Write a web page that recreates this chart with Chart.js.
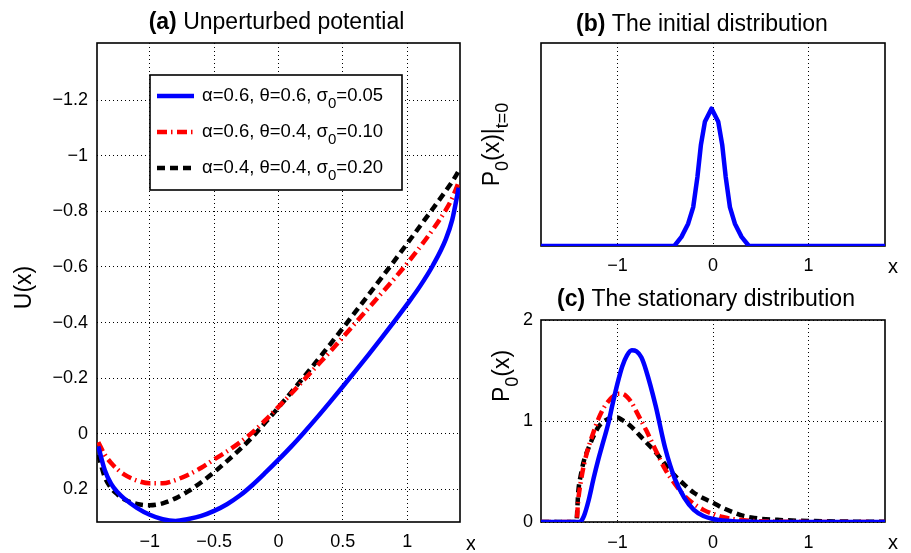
<!DOCTYPE html>
<html>
<head>
<meta charset="utf-8">
<script src="https://cdn.jsdelivr.net/npm/chart.js@4.4.1/dist/chart.umd.min.js"></script>
<style>
  html, body { margin: 0; padding: 0; background: #fff; }
  body { width: 911px; height: 553px; position: relative; overflow: hidden; }
  canvas { position: absolute; }
</style>
</head>
<body>
<canvas id="chartA" width="475" height="553" style="left:0;top:0"></canvas>
<canvas id="chartB" width="436" height="275" style="left:475px;top:0"></canvas>
<canvas id="chartC" width="436" height="278" style="left:475px;top:275px"></canvas>
<script>
// ---- panel (a): unperturbed potential U(x)
const X_A = [-1.4, -1.35, -1.3, -1.25, -1.2, -1.1, -1.0, -0.9, -0.8, -0.7, -0.6, -0.5, -0.4, -0.3, -0.2, -0.1,
             0, 0.1, 0.2, 0.3, 0.4, 0.5, 0.6, 0.7, 0.8, 0.9, 1.0, 1.1, 1.2, 1.3, 1.35, 1.4];
const U_BLUE  = [0.045, 0.13, 0.18, 0.21, 0.232, 0.266, 0.291, 0.307, 0.313, 0.306, 0.295, 0.277, 0.253, 0.222, 0.183, 0.139,
                 0.093, 0.045, -0.006, -0.059, -0.114, -0.17, -0.227, -0.285, -0.344, -0.404, -0.466, -0.531, -0.606, -0.7, -0.77, -0.885];
const U_RED   = [0.03, 0.075, 0.105, 0.128, 0.146, 0.168, 0.178, 0.178, 0.166, 0.147, 0.122, 0.092, 0.063, 0.031, -0.006, -0.05,
                 -0.097, -0.145, -0.195, -0.245, -0.295, -0.347, -0.4, -0.452, -0.505, -0.558, -0.613, -0.672, -0.735, -0.805, -0.848, -0.905];
const U_BLACK = [0.075, 0.155, 0.195, 0.218, 0.235, 0.252, 0.257, 0.25, 0.232, 0.206, 0.174, 0.138, 0.098, 0.056, 0.01, -0.042,
                 -0.095, -0.15, -0.206, -0.263, -0.321, -0.38, -0.44, -0.5, -0.561, -0.622, -0.684, -0.747, -0.81, -0.874, -0.907, -0.945];
const X_TICKS_A = [-1, -0.5, 0, 0.5, 1];
const Y_TICKS_A = [-1.2, -1, -0.8, -0.6, -0.4, -0.2, 0, 0.2];

const LEGEND_LABELS = [
  'α=0.6, θ=0.6, σ_{0}=0.05',
  'α=0.6, θ=0.4, σ_{0}=0.10',
  'α=0.4, θ=0.4, σ_{0}=0.20'
];

// ---- panel (b): initial distribution
const X_B = [-1.8, -0.405, -0.33, -0.26, -0.207, -0.163, -0.127, -0.085, -0.015, 0.055, 0.097, 0.133, 0.177, 0.229, 0.299, 0.376, 1.8];
const P_INIT = [0, 0, 0.27, 0.66, 1.15, 2.04, 2.98, 3.67, 4.06, 3.67, 2.98, 2.04, 1.15, 0.66, 0.27, 0, 0];

// ---- panel (c): stationary distribution
const X_C = [-1.8, -1.43, -1.41, -1.38, -1.35, -1.3, -1.25, -1.2, -1.15, -1.1, -1.05, -1.0, -0.95, -0.9, -0.85, -0.8,
             -0.75, -0.7, -0.6, -0.5, -0.4, -0.3, -0.2, -0.1, 0, 0.1, 0.2, 0.3, 0.4, 0.5, 0.7, 1.0, 1.3, 1.8];
const P_BLUE  = [0, 0, 0, 0.01, 0.06, 0.22, 0.43, 0.62, 0.79, 0.96, 1.17, 1.37, 1.54, 1.65, 1.70, 1.69,
                 1.63, 1.50, 1.15, 0.73, 0.43, 0.24, 0.12, 0.06, 0.03, 0.015, 0.008, 0.004, 0.002, 0.001, 0, 0, 0, 0];
const P_RED   = [0, 0, 0.22, 0.42, 0.57, 0.75, 0.89, 1.02, 1.12, 1.19, 1.24, 1.27, 1.27, 1.24, 1.18, 1.09,
                 1.0, 0.91, 0.71, 0.52, 0.38, 0.26, 0.18, 0.12, 0.08, 0.05, 0.03, 0.02, 0.012, 0.008, 0.003, 0.001, 0, 0];
const P_BLACK = [0, 0, 0.3, 0.48, 0.61, 0.74, 0.85, 0.94, 0.99, 1.02, 1.035, 1.035, 1.01, 0.98, 0.94, 0.89,
                 0.84, 0.79, 0.69, 0.57, 0.46, 0.37, 0.29, 0.235, 0.19, 0.14, 0.1, 0.065, 0.045, 0.032, 0.02, 0.01, 0.005, 0.002];
const X_TICKS_BC = [-1, 0, 1];
const Y_TICKS_C = [0, 1, 2];

const FONT_FAMILY = '"Liberation Sans", Arial, Helvetica, sans-serif';

const STYLE_BLUE  = { borderColor: '#0000ff', borderWidth: 4.5, borderDash: [] };
const STYLE_RED   = { borderColor: '#ff0000', borderWidth: 4.5, borderDash: [10, 4, 1.5, 4.5] };
const STYLE_BLACK = { borderColor: '#000000', borderWidth: 4.5, borderDash: [8, 5] };

function toPoints(xs, ys) {
  return xs.map((x, i) => ({ x: x, y: ys[i] }));
}

function series(label, xs, ys, style, smooth) {
  return Object.assign({
    label: label,
    data: toPoints(xs, ys),
    pointRadius: 0,
    borderCapStyle: 'butt',
    borderJoinStyle: 'round',
    fill: false,
    tension: 0,
    cubicInterpolationMode: smooth ? 'monotone' : 'default'
  }, style);
}

function fmtTick(v) {
  return v < 0 ? '\u2212' + Math.abs(v) : String(v);
}

// Splits "**bold** text_{sub}" into styled runs
function parseRich(str) {
  const parts = [];
  const re = /\*\*(.+?)\*\*|_\{(.+?)\}|([^*_]+)/g;
  let m;
  while ((m = re.exec(str))) {
    if (m[1]) parts.push({ t: m[1], bold: true });
    else if (m[2]) parts.push({ t: m[2], sub: true });
    else parts.push({ t: m[3] });
  }
  return parts;
}

function runFont(p, size) {
  const s = p.sub ? Math.round(size * 0.8) : size;
  return (p.bold ? 'bold ' : '') + s + 'px ' + FONT_FAMILY;
}

function drawRich(ctx, str, x, y, size, align) {
  const parts = parseRich(str);
  let w = 0;
  parts.forEach(p => { ctx.font = runFont(p, size); w += ctx.measureText(p.t).width; });
  let cx = align === 'center' ? x - w / 2 : (align === 'right' ? x - w : x);
  ctx.textBaseline = 'middle';
  ctx.textAlign = 'left';
  ctx.fillStyle = '#000';
  parts.forEach(p => {
    ctx.font = runFont(p, size);
    ctx.fillText(p.t, cx, y + (p.sub ? size * 0.42 : 0));
    cx += ctx.measureText(p.t).width;
  });
}

// Box around the plot area, under the curves
const framePlugin = {
  id: 'frame',
  beforeDatasetsDraw(chart) {
    const { ctx, chartArea: a } = chart;
    ctx.save();
    ctx.strokeStyle = '#000';
    ctx.lineWidth = 1.6;
    ctx.strokeRect(a.left, a.top, a.right - a.left, a.bottom - a.top);
    ctx.restore();
  }
};

// Titles and axis labels; each item places itself from the chart area
function textPlugin(items) {
  return {
    id: 'texts',
    afterDraw(chart) {
      const { ctx, chartArea: a } = chart;
      items.forEach(it => {
        const pos = it.at(a);
        ctx.save();
        ctx.translate(pos.x, pos.y);
        if (it.rotate) ctx.rotate(-Math.PI / 2);
        drawRich(ctx, it.text, 0, 0, it.size, 'center');
        ctx.restore();
      });
    }
  };
}

// Legend box drawn inside panel (a)
const legendPlugin = {
  id: 'boxLegend',
  afterDatasetsDraw(chart) {
    const { ctx, chartArea: a } = chart;
    const left = a.left + 53, top = a.top + 32, w = 252, h = 115;
    ctx.save();
    ctx.fillStyle = '#fff';
    ctx.fillRect(left, top, w, h);
    ctx.strokeStyle = '#000';
    ctx.lineWidth = 1.6;
    ctx.strokeRect(left, top, w, h);
    chart.data.datasets.forEach((ds, i) => {
      const y = top + 21 + i * 36;
      ctx.save();
      ctx.strokeStyle = ds.borderColor;
      ctx.lineWidth = ds.borderWidth;
      ctx.lineCap = 'butt';
      ctx.setLineDash(ds.borderDash);
      ctx.beginPath();
      ctx.moveTo(left + 7, y);
      ctx.lineTo(left + 44, y);
      ctx.stroke();
      ctx.restore();
      drawRich(ctx, ds.label, left + 52, y, 18.5, 'left');
    });
    ctx.restore();
  }
};

function xScale(min, max, ticks, height, padding, showGrid) {
  return {
    type: 'linear', min: min, max: max,
    afterFit: s => { s.height = height; },
    afterBuildTicks: s => { s.ticks = ticks.map(v => ({ value: v })); },
    grid: { display: showGrid, color: '#000', lineWidth: 1, drawTicks: false },
    border: { display: false, dash: [1, 3] },
    ticks: { color: '#000', font: { family: FONT_FAMILY, size: 18 }, padding: padding,
             maxRotation: 0, autoSkip: false, callback: fmtTick }
  };
}

function yScale(min, max, ticks, width, padding, showGrid, showTicks, reverse) {
  return {
    type: 'linear', min: min, max: max, reverse: !!reverse,
    afterFit: s => { s.width = width; },
    afterBuildTicks: s => { s.ticks = ticks.map(v => ({ value: v })); },
    grid: { display: showGrid, color: '#000', lineWidth: 1, drawTicks: false },
    border: { display: false, dash: [1, 3] },
    ticks: { display: showTicks, color: '#000', font: { family: FONT_FAMILY, size: 18 }, padding: padding,
             autoSkip: false, callback: fmtTick }
  };
}

const baseOptions = {
  responsive: false,
  animation: false,
  devicePixelRatio: 1,
  events: []
};

new Chart(document.getElementById('chartA'), {
  type: 'line',
  data: {
    datasets: [
      series(LEGEND_LABELS[0], X_A, U_BLUE, STYLE_BLUE, true),
      series(LEGEND_LABELS[1], X_A, U_RED, STYLE_RED, true),
      series(LEGEND_LABELS[2], X_A, U_BLACK, STYLE_BLACK, true)
    ]
  },
  options: Object.assign({}, baseOptions, {
    layout: { padding: { left: 0, top: 43, right: 15, bottom: 0 } },
    plugins: { legend: { display: false }, tooltip: { enabled: false } },
    scales: {
      x: xScale(-1.41, 1.41, X_TICKS_A, 31, 9, true),
      y: yScale(-1.405, 0.317, Y_TICKS_A, 97, 9, true, true, true)
    }
  }),
  plugins: [framePlugin, legendPlugin, textPlugin([
    { text: '**(a)** Unperturbed potential', size: 23, at: a => ({ x: (a.left + a.right) / 2 - 2, y: 23 }) },
    { text: 'U(x)', size: 23, rotate: true, at: a => ({ x: 25, y: (a.top + a.bottom) / 2 + 5 }) },
    { text: 'x', size: 20, at: a => ({ x: a.right + 11, y: a.bottom + 22 }) }
  ])]
});

new Chart(document.getElementById('chartB'), {
  type: 'line',
  data: {
    datasets: [series('P0 initial', X_B, P_INIT, STYLE_BLUE, false)]
  },
  options: Object.assign({}, baseOptions, {
    layout: { padding: { left: 0, top: 43, right: 26, bottom: 0 } },
    plugins: { legend: { display: false }, tooltip: { enabled: false } },
    scales: {
      x: xScale(-1.8, 1.8, X_TICKS_BC, 29, 9, true),
      y: yScale(0, 6, [], 66, 8, false, false)
    }
  }),
  plugins: [framePlugin, textPlugin([
    { text: '**(b)** The initial distribution', size: 23, at: a => ({ x: (a.left + a.right) / 2 - 11, y: 25 }) },
    { text: 'P_{0}(x)|_{t=0}', size: 23, rotate: true, at: a => ({ x: 18, y: (a.top + a.bottom) / 2 }) },
    { text: 'x', size: 20, at: a => ({ x: a.right + 8, y: a.bottom + 21 }) }
  ])]
});

new Chart(document.getElementById('chartC'), {
  type: 'line',
  data: {
    datasets: [
      series(LEGEND_LABELS[0], X_C, P_BLUE, STYLE_BLUE, true),
      series(LEGEND_LABELS[1], X_C, P_RED, STYLE_RED, true),
      series(LEGEND_LABELS[2], X_C, P_BLACK, STYLE_BLACK, true)
    ]
  },
  options: Object.assign({}, baseOptions, {
    layout: { padding: { left: 0, top: 45, right: 26, bottom: 0 } },
    plugins: { legend: { display: false }, tooltip: { enabled: false } },
    scales: {
      x: xScale(-1.8, 1.8, X_TICKS_BC, 31, 10, true),
      y: yScale(0, 2, Y_TICKS_C, 66, 8, true, true)
    }
  }),
  plugins: [framePlugin, textPlugin([
    { text: '**(c)** The stationary distribution', size: 23, at: a => ({ x: (a.left + a.right) / 2 - 7, y: 25 }) },
    { text: 'P_{0}(x)', size: 23, rotate: true, at: a => ({ x: 28, y: a.top + 56 }) },
    { text: 'x', size: 20, at: a => ({ x: a.right + 8, y: a.bottom + 21 }) }
  ])]
});
</script>
</body>
</html>
